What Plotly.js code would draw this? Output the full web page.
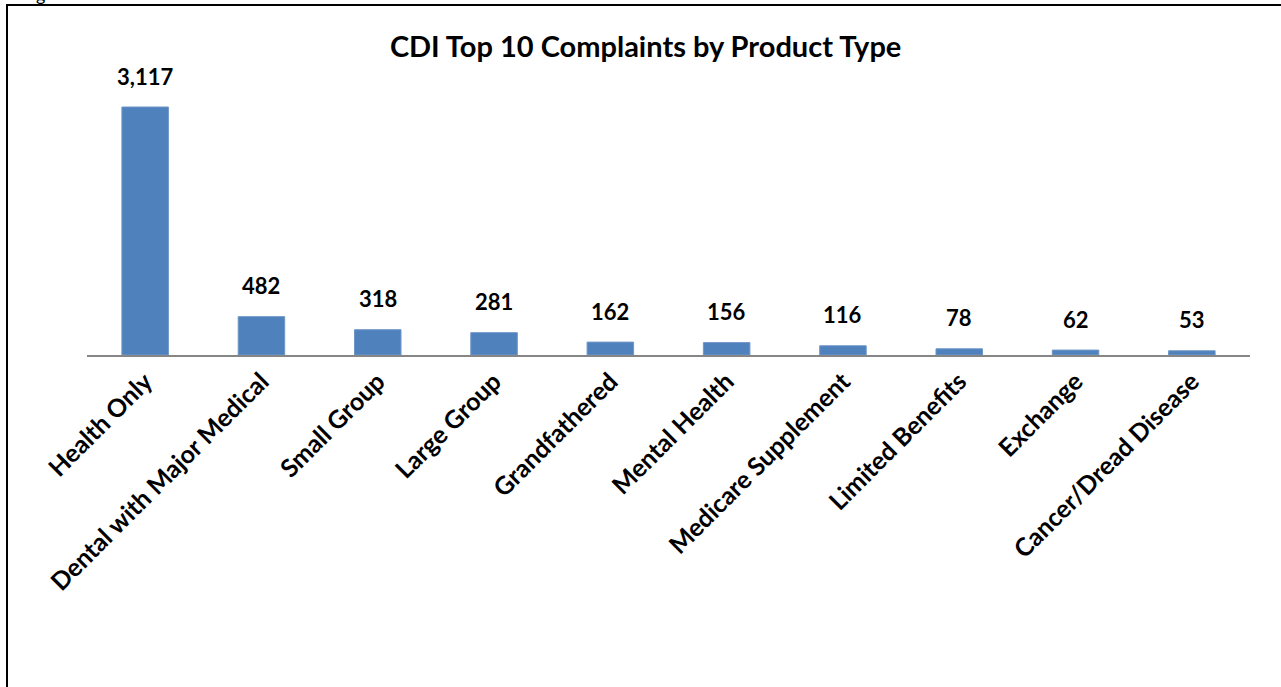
<!DOCTYPE html>
<html><head><meta charset="utf-8">
<script src="https://cdn.plot.ly/plotly-3.0.1.min.js"></script>
<style>html,body{margin:0;padding:0;background:#fff;}#chart{width:1281px;height:687px;}</style>
</head><body><div id="chart"></div>
<script>
const categories = ["Health Only","Dental with Major Medical","Small Group","Large Group","Grandfathered","Mental Health","Medicare Supplement","Limited Benefits","Exchange","Cancer/Dread Disease"];
const complaints = [3117,482,318,281,162,156,116,78,62,53];
const labels = complaints.map(v => v.toLocaleString('en-US'));

const W = 1281, H = 687, L = 87, R = 31, T = 60, B = 332;
const pw = W - L - R, ph = H - T - B;
const px = x => (x - L) / pw;
const py = y => (H - B - y) / ph;
const FONT = 'Lato, Carlito, sans-serif';

const trace = {
  type: 'bar', x: categories, y: complaints,
  marker: {color: '#4F81BD', line: {color: '#6f97c8', width: 1}},
  hoverinfo: 'none'
};
const valueLabels = categories.map((c, i) => ({
  x: c, y: complaints[i], xref: 'x', yref: 'y', text: '<b>' + labels[i] + '</b>', showarrow: false,
  xanchor: 'center', yanchor: 'middle', yshift: 31,
  font: {family: FONT, size: 22, color: '#000'}
}));
const layout = {
  width: W, height: H,
  margin: {l: L, r: R, t: T, b: B},
  paper_bgcolor: '#fff', plot_bgcolor: '#fff',
  bargap: 0.6,
  showlegend: false,
  title: {text: '<b>CDI Top 10 Complaints by Product Type</b>', x: 0.504, xanchor: 'center', y: 1 - 47/H, yanchor: 'middle',
          font: {family: FONT, size: 29, color: '#000'}},
  xaxis: {showline: true, linecolor: '#868686', linewidth: 2, ticks: '', tickangle: -45,
          tickfont: {family: FONT, size: 25, color: '#000', weight: 'bold'},
          showgrid: false, zeroline: false, fixedrange: true},
  yaxis: {range: [0, 3117 * (355 - T) / 248], visible: false, showgrid: false, zeroline: false, fixedrange: true},
  shapes: [
    {type: 'rect', xref: 'paper', yref: 'paper', x0: px(7), x1: px(1295), y0: py(5), y1: py(720),
     line: {color: '#000', width: 2}, fillcolor: 'rgba(0,0,0,0)'}
  ],
  annotations: valueLabels.concat([
    {xref: 'paper', yref: 'paper', x: px(40), y: py(-6), text: 'g', showarrow: false, xanchor: 'center', yanchor: 'middle',
     font: {family: FONT, size: 18, color: '#000'}}
  ])
};
Plotly.newPlot('chart', [trace], layout, {displayModeBar: false, staticPlot: true});
</script></body></html>
